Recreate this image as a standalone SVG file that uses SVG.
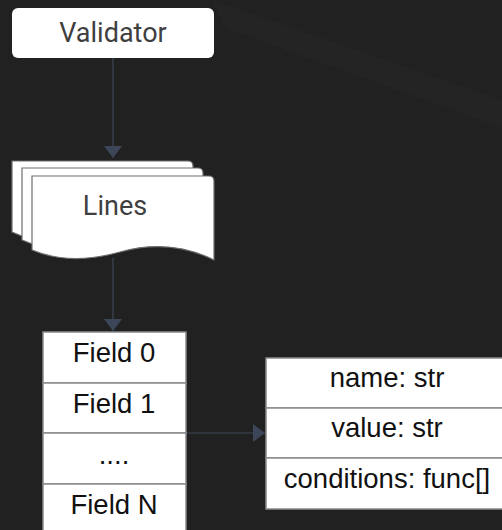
<svg xmlns="http://www.w3.org/2000/svg" width="502" height="530" viewBox="0 0 502 530">
<defs>
<marker id="arr" viewBox="0 0 12 18" refX="12" refY="9" markerWidth="12" markerHeight="18" markerUnits="userSpaceOnUse" orient="auto">
<path d="M0,0 L12,9 L0,18 Z" fill="#3d4658"/>
</marker>
<style>
.box{fill:#ffffff;}
.cell{fill:#ffffff;stroke:#8a8a8a;stroke-width:1.5;}
.lbl{font-family:Roboto,"Liberation Sans",sans-serif;font-size:27px;fill:#3f3f3f;text-anchor:middle;}
.fld{font-family:"Liberation Sans",Arial,sans-serif;font-size:27.5px;fill:#111111;text-anchor:middle;}
.con{stroke:#3d4658;stroke-width:1.2;fill:none;}
.doc{fill:#ffffff;stroke:#6e6e6e;stroke-width:1.2;}
</style>
</defs>
<rect width="502" height="530" fill="#212121"/>
<polygon points="212,0 502,100 502,128 225,28" fill="#242424"/>
<g id="connectors">
<line class="con" x1="113" y1="58" x2="113" y2="158" marker-end="url(#arr)"/>
<line class="con" x1="113" y1="258" x2="113" y2="331" marker-end="url(#arr)"/>
<line class="con" x1="186" y1="433" x2="265" y2="433" marker-end="url(#arr)"/>
</g>
<g id="validator">
<rect class="box" x="12" y="8" width="202" height="50" rx="6"/>
<text class="lbl" x="113" y="42">Validator</text>
</g>
<g id="lines">
<path class="doc" d="M12,161 L188,161 Q193,161 193,166 L193,238 Q140,222 90,236 Q45,248 12,232 Z"/>
<path class="doc" d="M22,168 L198,168 Q203,168 203,173 L203,245 Q150,230 100,243 Q55,255 22,240 Z"/>
<path class="doc" d="M32,176 L209,176 Q214,176 214,181 L214,260 Q170,238 120,252 Q70,266 32,250 Z"/>
<text class="lbl" x="115" y="215">Lines</text>
</g>
<g id="fields">
<rect class="cell" x="43" y="332" width="143" height="51"/>
<rect class="cell" x="43" y="383" width="143" height="50"/>
<rect class="cell" x="43" y="433" width="143" height="51"/>
<rect class="cell" x="43" y="484" width="143" height="50"/>
<text class="fld" x="114" y="362">Field 0</text>
<text class="fld" x="114" y="413">Field 1</text>
<text class="fld" x="114" y="464">....</text>
<text class="fld" x="114" y="514">Field N</text>
</g>
<g id="field">
<rect class="cell" x="266" y="358" width="240" height="50"/>
<rect class="cell" x="266" y="408" width="240" height="50"/>
<rect class="cell" x="266" y="458" width="240" height="51"/>
<text class="fld" x="387" y="387">name: str</text>
<text class="fld" x="387" y="437">value: str</text>
<text class="fld" x="387" y="488">conditions: func[]</text>
</g>
</svg>
